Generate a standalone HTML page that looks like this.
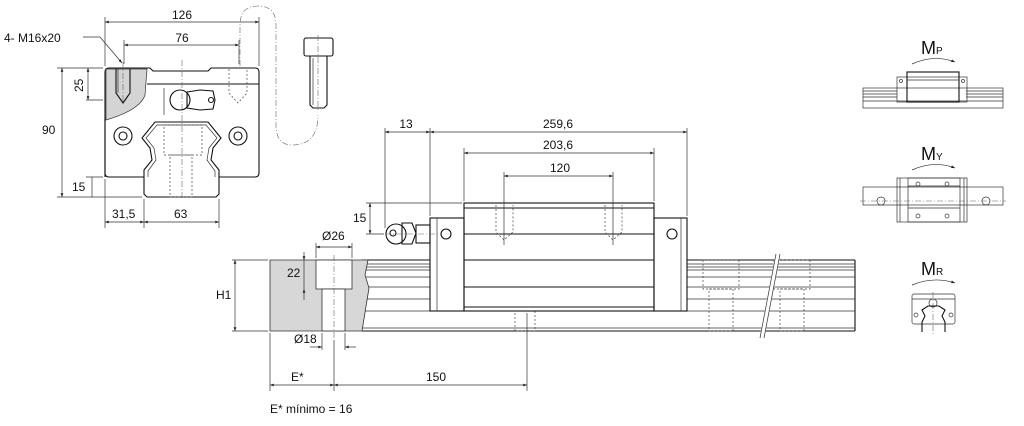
<!DOCTYPE html>
<html><head><meta charset="utf-8"><style>
html,body{margin:0;padding:0;background:#fff;width:1024px;height:426px;overflow:hidden}
svg{display:block}
text{font-family:"Liberation Sans",sans-serif;fill:#111;font-size:12px}
text.m{font-size:18px}
tspan.s{font-size:10px}
.l{stroke:#111;stroke-width:1.1;fill:none}
.t{stroke:#333;stroke-width:.7;fill:none}
.d{stroke:#444;stroke-width:.7;fill:none;stroke-dasharray:2,2}
.c{stroke:#666;stroke-width:.6;fill:none;stroke-dasharray:6,2,1,2}
</style></head><body>
<svg width="1024" height="426" viewBox="0 0 1024 426" xmlns="http://www.w3.org/2000/svg">
<defs>
<marker id="a" viewBox="0 0 8 6" refX="8" refY="3" markerWidth="6" markerHeight="4" orient="auto-start-reverse"><path d="M0,0 L8,3 L0,6 z" fill="#222"/></marker>
</defs>

<path d="M105,72 Q105,68 109,68 L150,68 L153,71 L208,71 L211,68 L255,68 Q259,68 259,72 L259,173 Q259,177 255,177 L219,177 L219,194 L216,197 L147,197 L144,194 L144,177 L109,177 Q105,177 105,173 Z" class="l" fill="#fff"/>
<path d="M106,69 L147,69 L145,95 Q140,110 106,120 Z" fill="#d4d4d4" stroke="#333" stroke-width=".7"/>
<line x1="147" y1="84" x2="259" y2="84" class="l"/>
<line x1="105" y1="118" x2="105" y2="177" class="l"/>
<path d="M144,177 L144,170 L152,160 L150,148 L142,138 L155,122 L208,122 L221,138 L213,148 L211,160 L219,170 L219,177" class="l"/>
<path d="M148,177 L148,171 L156,160 L154,148 L146,138 L157,125 L206,125 L217,138 L209,148 L207,160 L215,171 L215,177" class="t"/>
<rect x="164" y="125" width="38" height="30" class="d"/>
<rect x="170" y="155" width="22" height="42" class="d"/>
<line x1="182" y1="60" x2="182" y2="200" class="c"/>
<circle cx="123" cy="136" r="9" class="l"/><circle cx="123" cy="136" r="4" class="l"/>
<circle cx="238" cy="136" r="9" class="l"/><circle cx="238" cy="136" r="4" class="l"/>
<path d="M116,69 L116,93 L123,103 L130,93 L130,69" class="l"/>
<line x1="118" y1="69" x2="118" y2="93" class="t"/>
<line x1="123" y1="62" x2="123" y2="106" class="c"/>
<path d="M229,69 L229,93 L238,103 L247,93 L247,69" class="d"/>
<circle cx="180" cy="100" r="10" class="l"/>
<path d="M164,88 L164,115" class="t"/>
<path d="M187,92 L200,90 L213,91 L215,100 L213,109 L200,110 L187,108 Z" class="l"/>
<circle cx="211" cy="100" r="2.5" class="l"/>
<line x1="105" y1="66" x2="105" y2="17" class="t"/><line x1="259" y1="66" x2="259" y2="17" class="t"/>
<line x1="105" y1="22" x2="259" y2="22" class="t" marker-start="url(#a)" marker-end="url(#a)"/>
<text x="182" y="19" text-anchor="middle">126</text>
<line x1="124" y1="40" x2="124" y2="64" class="t"/><line x1="239" y1="40" x2="239" y2="64" class="t"/>
<line x1="124" y1="45" x2="239" y2="45" class="t" marker-start="url(#a)" marker-end="url(#a)"/>
<text x="182" y="42" text-anchor="middle">76</text>
<text x="4" y="42">4- M16x20</text>
<path d="M83,37 L100,37 L122,63" class="t" marker-end="url(#a)"/>
<line x1="57" y1="68" x2="103" y2="68" class="t"/><line x1="57" y1="197" x2="142" y2="197" class="t"/>
<line x1="86" y1="100" x2="103" y2="100" class="t"/><line x1="86" y1="177" x2="103" y2="177" class="t"/>
<line x1="62" y1="68" x2="62" y2="197" class="t" marker-start="url(#a)" marker-end="url(#a)"/>
<text x="42" y="134">90</text>
<line x1="88" y1="68" x2="88" y2="100" class="t" marker-start="url(#a)" marker-end="url(#a)"/>
<text x="0" y="0" transform="translate(83,92) rotate(-90)">25</text>
<line x1="92" y1="177" x2="92" y2="197" class="t"/>
<text x="72" y="191">15</text>
<line x1="105" y1="179" x2="105" y2="228" class="t"/><line x1="144" y1="199" x2="144" y2="228" class="t"/><line x1="219" y1="199" x2="219" y2="228" class="t"/>
<line x1="105" y1="222" x2="144" y2="222" class="t" marker-start="url(#a)" marker-end="url(#a)"/>
<line x1="144" y1="222" x2="219" y2="222" class="t" marker-start="url(#a)" marker-end="url(#a)"/>
<text x="112" y="218">31,5</text><text x="174" y="218">63</text>

<rect x="304" y="38" width="29" height="18" rx="2" class="l"/>
<path d="M310,56 L310,105 L313,108 L324,108 L327,105 L327,56" class="l"/>
<line x1="313" y1="58" x2="313" y2="105" class="t"/>
<line x1="318" y1="35" x2="318" y2="112" class="c"/>
<path d="M240,66 L240,25 Q240,6 258,6 Q276,6 276,25 L276,125 Q276,145 292,145 Q318,145 318,115" class="c"/>

<rect x="270" y="260" width="585" height="71" fill="#fff" stroke="none"/>
<g class="l">
<line x1="362" y1="260" x2="430" y2="260"/><line x1="687" y1="260" x2="855" y2="260"/>
<line x1="362" y1="331" x2="855" y2="331"/>
<line x1="855" y1="260" x2="855" y2="331"/>
</g>
<g class="t" stroke="#222">
<line x1="365" y1="264" x2="430" y2="264"/><line x1="687" y1="264" x2="855" y2="264"/>
<line x1="365" y1="267" x2="430" y2="267"/><line x1="687" y1="267" x2="855" y2="267"/>
<line x1="365" y1="270" x2="430" y2="270"/><line x1="687" y1="270" x2="855" y2="270"/>
<line x1="365" y1="277" x2="430" y2="277"/><line x1="687" y1="277" x2="855" y2="277"/>
<line x1="365" y1="287" x2="430" y2="287"/><line x1="687" y1="287" x2="855" y2="287"/>
<line x1="365" y1="299" x2="430" y2="299"/><line x1="687" y1="299" x2="855" y2="299"/>
<line x1="362" y1="311" x2="855" y2="311"/>
<line x1="362" y1="328" x2="855" y2="328"/>
</g>
<path d="M270,260 L368,260 L365,275 L369,288 L362,331 L270,331 Z" fill="#d7d7d7" stroke="#333" stroke-width=".8"/>
<rect x="316" y="260" width="36" height="29" fill="#fff" stroke="#333" stroke-width=".8"/>
<rect x="322" y="289" width="23" height="42" fill="#fff" stroke="#333" stroke-width=".8"/>
<line x1="334" y1="255" x2="334" y2="340" class="c"/>
<rect x="515" y="311" width="20" height="20" class="d"/>
<rect x="703" y="260" width="36" height="29" class="d"/><rect x="709" y="289" width="24" height="42" class="d"/>
<rect x="774" y="260" width="36" height="29" class="d"/><rect x="780" y="289" width="24" height="42" class="d"/>
<line x1="762" y1="338" x2="778" y2="254" stroke="#fff" stroke-width="5"/>
<line x1="760" y1="338" x2="776" y2="254" class="t"/><line x1="764" y1="338" x2="780" y2="254" class="t"/>
<rect x="430" y="218" width="34" height="93" fill="#fff" class="l"/>
<line x1="437" y1="218" x2="437" y2="311" class="t"/>
<rect x="654" y="218" width="33" height="93" fill="#fff" class="l"/>
<line x1="681" y1="218" x2="681" y2="311" class="t"/>
<rect x="464" y="203" width="190" height="108" fill="#fff" class="l"/>
<g class="l"><line x1="464" y1="208" x2="654" y2="208"/><line x1="464" y1="234" x2="654" y2="234"/><line x1="464" y1="260" x2="654" y2="260"/><line x1="464" y1="287" x2="654" y2="287"/><line x1="464" y1="307" x2="654" y2="307"/></g>
<circle cx="446" cy="234" r="5" class="l"/><circle cx="672" cy="234" r="5" class="l"/>
<path d="M496,205 L496,232 L504,240 L513,232 L513,205" class="d"/>
<path d="M605,205 L605,232 L613,240 L622,232 L622,205" class="d"/>
<line x1="504" y1="172" x2="504" y2="245" class="t"/><line x1="613" y1="172" x2="613" y2="245" class="t"/>
<path d="M402,223 L412,223 L416,233 L412,244 L402,244 Z" class="l"/>
<circle cx="396" cy="234" r="10" fill="#fff" class="l"/><circle cx="393" cy="233" r="3" class="l"/>
<rect x="416" y="225" width="14" height="18" class="l"/>
<line x1="385" y1="234" x2="440" y2="234" class="c"/>
<line x1="385" y1="128" x2="385" y2="228" class="t"/><line x1="430" y1="128" x2="430" y2="216" class="t"/>
<line x1="687" y1="128" x2="687" y2="216" class="t"/><line x1="464" y1="148" x2="464" y2="201" class="t"/><line x1="654" y1="148" x2="654" y2="201" class="t"/>
<line x1="385" y1="132" x2="430" y2="132" class="t" marker-start="url(#a)" marker-end="url(#a)"/>
<line x1="430" y1="132" x2="687" y2="132" class="t" marker-start="url(#a)" marker-end="url(#a)"/>
<text x="406" y="128" text-anchor="middle">13</text>
<text x="558" y="128" text-anchor="middle">259,6</text>
<line x1="464" y1="153" x2="654" y2="153" class="t" marker-start="url(#a)" marker-end="url(#a)"/>
<text x="558" y="149" text-anchor="middle">203,6</text>
<line x1="504" y1="176" x2="613" y2="176" class="t" marker-start="url(#a)" marker-end="url(#a)"/>
<text x="560" y="172" text-anchor="middle">120</text>
<line x1="366" y1="203" x2="462" y2="203" class="t"/>
<line x1="370" y1="203" x2="370" y2="234" class="t" marker-start="url(#a)" marker-end="url(#a)"/>
<line x1="366" y1="234" x2="384" y2="234" class="t"/>
<text x="353" y="222">15</text>
<line x1="316" y1="243" x2="316" y2="258" class="t"/><line x1="352" y1="243" x2="352" y2="258" class="t"/>
<line x1="316" y1="247" x2="352" y2="247" class="t" marker-start="url(#a)" marker-end="url(#a)"/>
<text x="322" y="240">Ø26</text>
<line x1="304" y1="252" x2="304" y2="260" class="t" marker-end="url(#a)"/>
<line x1="304" y1="300" x2="304" y2="289" class="t" marker-end="url(#a)"/>
<line x1="304" y1="260" x2="304" y2="289" class="t"/>
<text x="287" y="277">22</text>
<line x1="232" y1="260" x2="268" y2="260" class="t"/><line x1="232" y1="331" x2="268" y2="331" class="t"/>
<line x1="235" y1="260" x2="235" y2="331" class="t" marker-start="url(#a)" marker-end="url(#a)"/>
<text x="216" y="299">H1</text>
<text x="294" y="343">Ø18</text>
<line x1="310" y1="347" x2="322" y2="347" class="t" marker-end="url(#a)"/>
<line x1="356" y1="347" x2="345" y2="347" class="t" marker-end="url(#a)"/>
<line x1="322" y1="333" x2="322" y2="350" class="t"/><line x1="345" y1="333" x2="345" y2="350" class="t"/>
<line x1="270" y1="333" x2="270" y2="391" class="t"/><line x1="334" y1="340" x2="334" y2="391" class="t"/><line x1="527" y1="313" x2="527" y2="391" class="t"/>
<line x1="270" y1="385" x2="334" y2="385" class="t" marker-start="url(#a)" marker-end="url(#a)"/>
<line x1="334" y1="385" x2="527" y2="385" class="t" marker-start="url(#a)" marker-end="url(#a)"/>
<text x="291" y="381">E*</text><text x="426" y="381">150</text>
<text x="270" y="413">E* mínimo = 16</text>

<text class="m" x="921" y="54">M<tspan class="s">P</tspan></text>
<path d="M912,64 Q934,54 955,62" class="t" marker-end="url(#a)"/>
<g>
<rect x="863" y="88" width="140" height="20" fill="#fff" class="t"/>
<line x1="863" y1="91" x2="897" y2="91" class="t"/><line x1="863" y1="94" x2="897" y2="94" class="t"/><line x1="863" y1="97" x2="897" y2="97" class="t"/><line x1="863" y1="101" x2="1003" y2="101" class="t"/>
<line x1="966" y1="91" x2="1003" y2="91" class="t"/><line x1="966" y1="94" x2="1003" y2="94" class="t"/><line x1="966" y1="97" x2="1003" y2="97" class="t"/>
<rect x="897" y="77" width="70" height="25" fill="#fff" class="t"/>
<rect x="907" y="72" width="52" height="30" fill="#fff" class="l"/>
<line x1="907" y1="80" x2="959" y2="80" class="t"/>
<circle cx="901" cy="81" r="1.5" class="t"/><circle cx="963" cy="81" r="1.5" class="t"/>
</g>
<text class="m" x="921" y="160">M<tspan class="s">Y</tspan></text>
<path d="M912,170 Q934,160 955,168" class="t" marker-end="url(#a)"/>
<g>
<rect x="863" y="187" width="140" height="18" fill="#fff" class="t"/>
<rect x="897" y="178" width="70" height="44" fill="#fff" class="t"/>
<line x1="900" y1="178" x2="900" y2="222" class="t"/><line x1="964" y1="178" x2="964" y2="222" class="t"/>
<rect x="908" y="178" width="52" height="44" fill="#fff" class="t"/>
<line x1="908" y1="186" x2="960" y2="186" class="t"/><line x1="908" y1="208" x2="960" y2="208" class="t"/>
<circle cx="918" cy="184" r="2" class="t"/><circle cx="947" cy="184" r="2" class="t"/><circle cx="918" cy="216" r="2" class="t"/><circle cx="947" cy="216" r="2" class="t"/>
<circle cx="881" cy="201" r="4" class="t"/><circle cx="986" cy="201" r="4" class="t"/>
<line x1="860" y1="201" x2="1006" y2="201" class="c"/>
</g>
<text class="m" x="921" y="275">M<tspan class="s">R</tspan></text>
<path d="M912,285 Q934,276 955,283" class="t" marker-end="url(#a)"/>
<g>
<rect x="912" y="294" width="43" height="30" rx="2" fill="#fff" class="t"/>
<line x1="912" y1="299" x2="955" y2="299" class="t"/>
<circle cx="933" cy="303" r="4" class="t"/>
<circle cx="916" cy="315" r="2" class="t"/><circle cx="951" cy="315" r="2" class="t"/>
<path d="M922,332 L922,322 L925,316 L922,310 L928,306 L939,306 L945,310 L942,316 L945,322 L945,332" class="l"/>
<line x1="933" y1="292" x2="933" y2="336" class="c"/>
</g>
</svg>
</body></html>
